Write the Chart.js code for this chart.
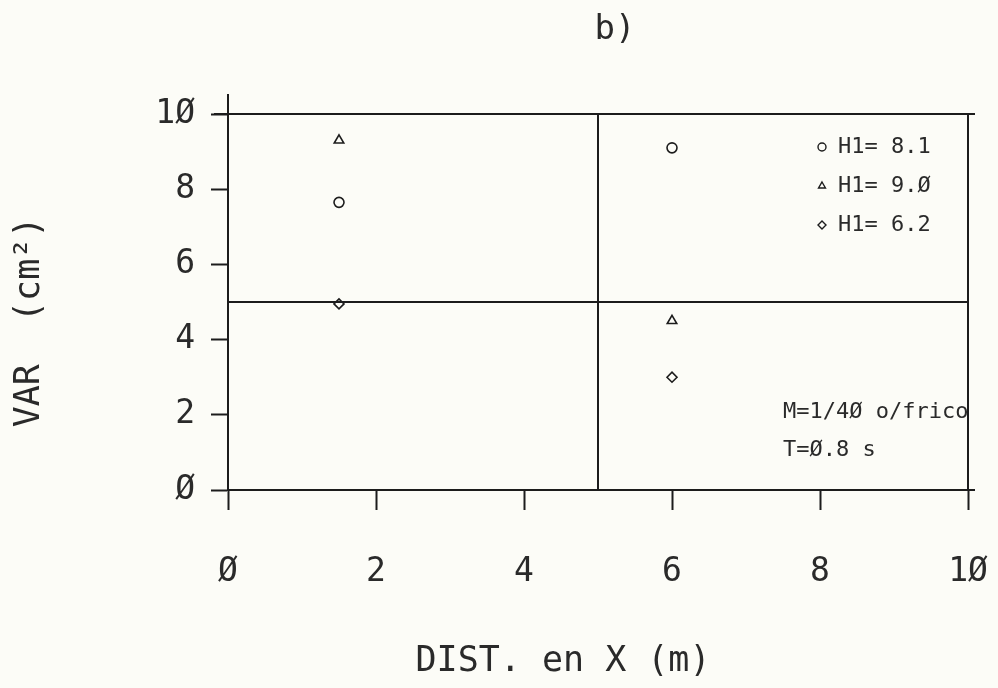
<!DOCTYPE html>
<html>
<head>
<meta charset="utf-8">
<script src="https://cdn.jsdelivr.net/npm/chart.js@4.4.1/dist/chart.umd.min.js"></script>
<style>
  html,body{margin:0;padding:0;background:#fcfcf7;}
  #wrap{width:998px;height:688px;position:relative;}
</style>
</head>
<body>
<div id="wrap"><canvas id="c" width="998" height="688"></canvas></div>
<script>
// ---- data ----
const panelTitle = 'b)';
const xTitle = 'DIST. en X (m)';
const yTitle = 'VAR  (cm²)';
const tickValues = [0, 2, 4, 6, 8, 10];
const tickLabels = ['Ø', '2', '4', '6', '8', '1Ø'];
const xPositions = [1.5, 6];
const seriesNames = ['H1= 8.1', 'H1= 9.Ø', 'H1= 6.2'];
const circleValues = [7.65, 9.1];
const triangleValues = [9.3, 4.5];
const diamondValues = [4.95, 3.0];
const hRefLines = [5, 10];   // horizontal reference lines (y values)
const vRefLines = [5, 10];   // vertical reference lines (x values)
const noteLines = ['M=1/4Ø o/frico', 'T=Ø.8 s'];

const ink = '#1c1c1c';
const textInk = '#2a2a2a';
const mono = '"DejaVu Sans Mono", monospace';

const pointSeries = [
  {label: seriesNames[0], values: circleValues, style: 'circle', r: 5},
  {label: seriesNames[1], values: triangleValues, style: 'triangle', r: 5.5},
  {label: seriesNames[2], values: diamondValues, style: 'rectRot', r: 5}
];

const datasets = [];
hRefLines.forEach(v => datasets.push({
  type: 'line', data: [{x: 0, y: v}, {x: 10, y: v}], borderColor: ink, borderWidth: 2,
  pointRadius: 0, fill: false, showLine: true, clip: false
}));
vRefLines.forEach(v => datasets.push({
  type: 'line', data: [{x: v, y: 0}, {x: v, y: 10}], borderColor: ink, borderWidth: 2,
  pointRadius: 0, fill: false, showLine: true, clip: false
}));
pointSeries.forEach(s => datasets.push({
  type: 'scatter', label: s.label,
  data: xPositions.map((x, i) => ({x: x, y: s.values[i]})),
  pointStyle: s.style, pointRadius: s.r, pointHoverRadius: s.r,
  backgroundColor: 'rgba(0,0,0,0)', borderColor: ink, borderWidth: 1.6, showLine: false
}));

const decor = {
  id: 'decor',
  beforeDraw(c) {
    const ctx = c.ctx;
    ctx.save();
    ctx.fillStyle = '#fcfcf7';
    ctx.fillRect(0, 0, c.width, c.height);
    ctx.restore();
  },
  afterDraw(c) {
    const ctx = c.ctx, a = c.chartArea;
    ctx.save();
    // plotter overshoot of the left axis above the frame
    ctx.strokeStyle = ink; ctx.lineWidth = 2;
    ctx.beginPath(); ctx.moveTo(a.left, a.top - 20); ctx.lineTo(a.left, a.top); ctx.stroke();
    ctx.beginPath(); ctx.moveTo(a.left - 14, a.top); ctx.lineTo(a.left, a.top); ctx.stroke();
    ctx.beginPath(); ctx.moveTo(a.right, a.top); ctx.lineTo(a.right + 7, a.top); ctx.stroke();
    ctx.beginPath(); ctx.moveTo(a.right, a.bottom); ctx.lineTo(a.right + 7, a.bottom); ctx.stroke();

    ctx.fillStyle = textInk;
    ctx.textBaseline = 'middle';
    // panel title
    ctx.font = '34px ' + mono; ctx.textAlign = 'center';
    ctx.fillText(panelTitle, 615, 30);
    // axis titles
    ctx.font = '35px ' + mono;
    ctx.fillText(xTitle, 563, 662);
    ctx.save();
    ctx.translate(30, 322); ctx.rotate(-Math.PI / 2);
    ctx.fillText(yTitle, 0, 0);
    ctx.restore();
    // legend inside the plot
    ctx.font = '22px ' + mono; ctx.textAlign = 'left';
    const lx = a.left + 594, ly0 = a.top + 33, dy = 39;
    pointSeries.forEach((s, i) => {
      const y = ly0 + i * dy;
      ctx.save();
      ctx.strokeStyle = ink; ctx.lineWidth = 1.4; ctx.fillStyle = 'rgba(0,0,0,0)';
      Chart.helpers.drawPoint(ctx, {pointStyle: s.style, radius: 4, rotation: 0, borderWidth: 1.4}, lx, y);
      ctx.restore();
      ctx.fillText(s.label, lx + 16, y);
    });
    // note
    ctx.fillText(noteLines[0], a.left + 555, a.top + 298);
    ctx.fillText(noteLines[1], a.left + 555, a.top + 336);
    ctx.restore();
  }
};

new Chart(document.getElementById('c'), {
  data: {datasets: datasets},
  options: {
    responsive: false, animation: false, events: [],
    layout: {padding: {top: 114, right: 30, left: 0, bottom: 0}},
    plugins: {legend: {display: false}, tooltip: {enabled: false}, title: {display: false}},
    scales: {
      x: {
        type: 'linear', position: 'bottom', min: 0, max: 10,
        afterBuildTicks: s => { s.ticks = tickValues.map(v => ({value: v})); },
        afterFit: s => { s.height = 198; s.paddingLeft = 0; s.paddingRight = 0; },
        ticks: {
          callback: (v) => tickLabels[tickValues.indexOf(v)],
          font: {family: 'DejaVu Sans Mono', size: 33}, color: textInk, padding: 43, maxRotation: 0
        },
        grid: {drawOnChartArea: false, drawTicks: true, tickLength: 20, tickColor: ink, tickWidth: 2},
        border: {display: true, color: ink, width: 2, dash: [34, 5]}
      },
      y: {
        type: 'linear', position: 'left', min: 0, max: 10,
        afterBuildTicks: s => { s.ticks = tickValues.map(v => ({value: v})); },
        afterFit: s => { s.width = 228; s.paddingTop = 0; s.paddingBottom = 0; },
        ticks: {
          callback: (v) => tickLabels[tickValues.indexOf(v)],
          font: {family: 'DejaVu Sans Mono', size: 33}, color: textInk, padding: 16
        },
        grid: {drawOnChartArea: false, drawTicks: true, tickLength: 17, tickColor: ink, tickWidth: 2},
        border: {display: true, color: ink, width: 2}
      }
    }
  },
  plugins: [decor]
});
</script>
</body>
</html>
